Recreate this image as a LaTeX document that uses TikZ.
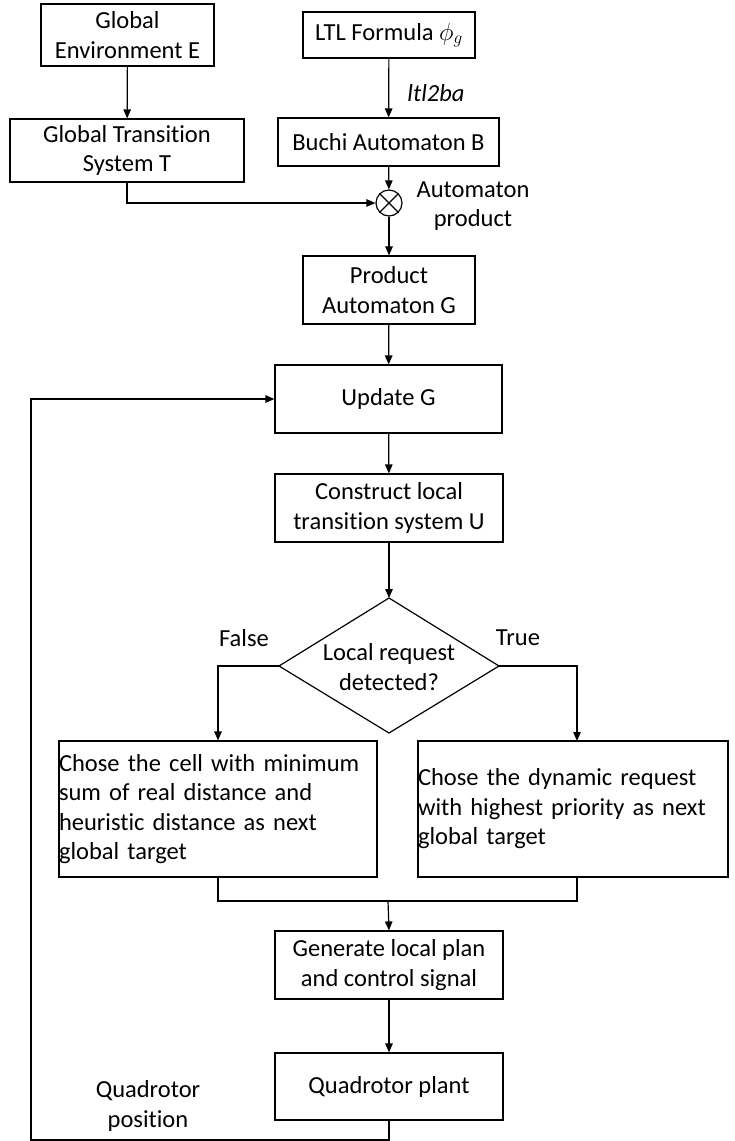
\documentclass[tikz,border=0pt]{standalone}
\usepackage{fontspec}
\setmainfont{Carlito}[Ligatures=NoCommon]
\usetikzlibrary{arrows.meta}
\begin{document}
\begin{tikzpicture}[x=1pt,y=-1pt,
  every node/.style={font=\fontsize{24.5}{29.5}\selectfont, inner sep=0pt},
  box/.style={draw, line width=1.2pt, align=center},
  widebox/.style={draw, line width=1.2pt, align=left, text width=318pt, minimum height=136pt},
  conn/.style={line width=1.2pt, -{Triangle[length=9pt,width=7.5pt]}},
  plain/.style={line width=1.2pt}]
\useasboundingbox (0,0) rectangle (735,1141);
% top row
\node[box, minimum width=173pt, minimum height=62pt] (GE) at (127.5,35) {Global\\Environment E};
\node[box, minimum width=172pt, minimum height=46pt] (LTL) at (389,35) {LTL Formula $\phi_g$};
\node[box, minimum width=234pt, minimum height=63pt] (GTS) at (127,150.5) {Global Transition\\System T};
\node[box, minimum width=221pt, minimum height=48pt] (BA) at (388.5,142) {Buchi Automaton B};
\node[draw, circle, line width=1.2pt, minimum size=26pt] (X) at (389,203) {};
\draw[plain] (X.north west) -- (X.south east);
\draw[plain] (X.north east) -- (X.south west);
\node[align=center] (autlab) at (473,206) {Automaton\\product};
\node[font=\fontsize{24.5}{29.5}\selectfont\itshape] (ltl2ba) at (436,93) {ltl2ba};
\node[box, minimum width=172pt, minimum height=68pt] (PG) at (389,290) {Product\\Automaton G};
\node[box, minimum width=227pt, minimum height=68pt] (UG) at (388.5,399) {Update G};
\node[box, minimum width=228pt, minimum height=68pt] (CL) at (389,508) {Construct local\\transition system U};
% diamond
\coordinate (dN) at (389,598);
\coordinate (dS) at (389,733);
\coordinate (dW) at (279,666);
\coordinate (dE) at (499,666);
\draw[plain] (dN) -- (dE) -- (dS) -- (dW) -- cycle;
\node[align=center] (dtext) at (389,667) {Local request\\detected?};
\node (false) at (244,638) {False};
\node (true) at (518,638) {True};
% wide boxes
\node[widebox] (LB) at (218,809) {Chose the cell with minimum\\sum of real distance and\\heuristic distance as next\\global target};
\node[widebox, text width=310pt] (RB) at (573,809) {Chose the dynamic request\\with highest priority as next\\global target};
\coordinate (rtop) at (577,741);
\coordinate (rbot) at (577,877);
\coordinate (m) at (388,901);
\node[box, minimum width=228pt, minimum height=68pt] (GEN) at (389,965) {Generate local plan\\and control signal};
\node[box, minimum width=228pt, minimum height=67pt] (QP) at (389,1086.5) {Quadrotor plant};
\node[align=center] (qpos) at (148,1106) {Quadrotor\\position};
\coordinate (fb) at (31,1140);
% connectors
\draw[conn] (GE) -- (GTS);
\draw[conn] (LTL) -- (BA);
\draw[conn] (BA) -- (X);
\draw[conn] (GTS.south) |- (X.west);
\draw[conn] (X) -- (PG);
\draw[conn] (PG) -- (UG);
\draw[conn] (UG) -- (CL);
\draw[conn] (CL) -- (dN);
\draw[conn] (dW) -| (LB.north);
\draw[conn] (dE) -| (rtop);
\draw[plain] (LB.south) |- (m) -| (rbot);
\draw[conn] (m) -- (GEN.north);
\draw[conn] (GEN) -- (QP);
\draw[conn] (QP.south) |- (fb) |- (UG.west);
\end{tikzpicture}
\end{document}
